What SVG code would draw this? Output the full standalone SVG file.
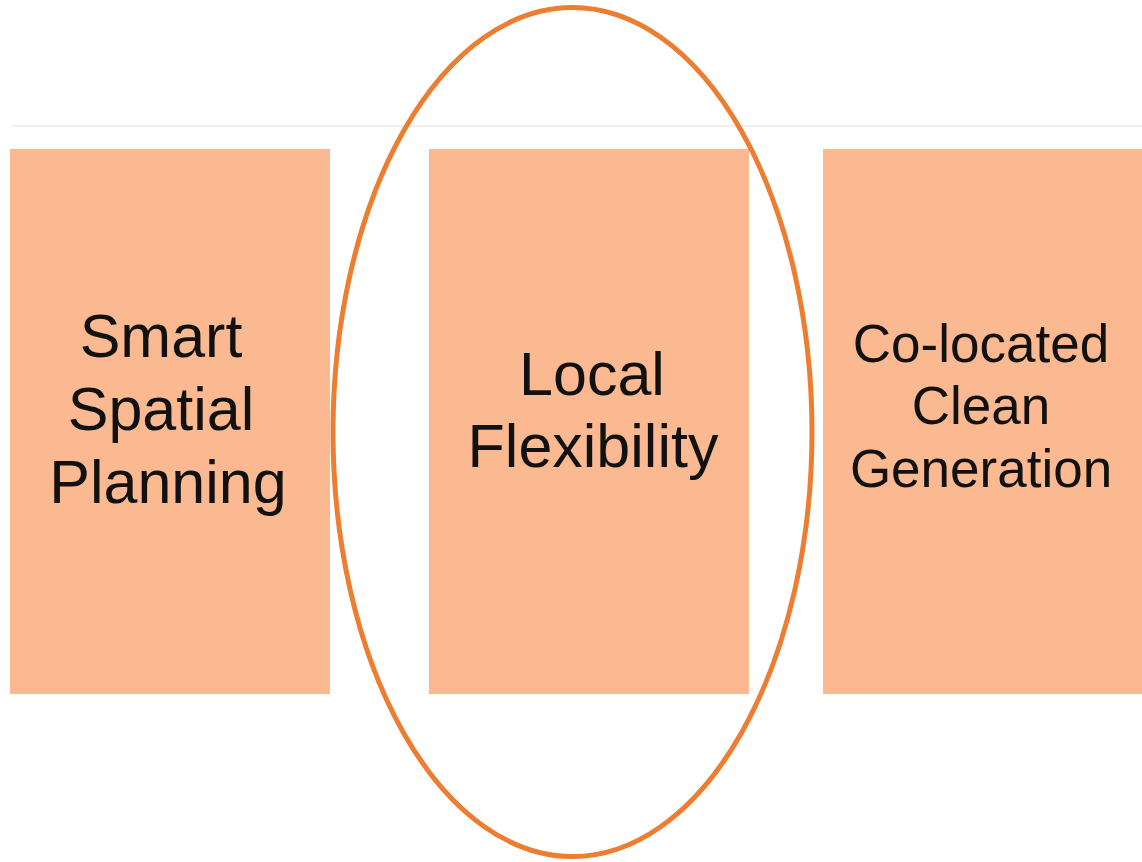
<svg xmlns="http://www.w3.org/2000/svg" width="1142" height="862" viewBox="0 0 1142 862">
<style>
.box{fill:#FAB990;}
.lbl{font-family:"Liberation Sans",Arial,sans-serif;fill:#111111;text-anchor:middle;}
.big{font-size:61px;}
.small{font-size:53px;}
</style>
<rect width="1142" height="862" fill="#ffffff"/>
<g id="connectors">
<line x1="11" y1="126" x2="1142" y2="126" stroke="#ebebeb" stroke-width="1.5"/>
</g>
<g id="node-smart-spatial-planning">
<rect class="box" x="10" y="149" width="320" height="545"/>
<text class="lbl big" x="161" y="357">Smart</text>
<text class="lbl big" x="161" y="430">Spatial</text>
<text class="lbl big" x="168" y="503">Planning</text>
</g>
<g id="node-local-flexibility">
<rect class="box" x="429" y="149" width="320" height="545"/>
<text class="lbl big" x="592" y="395">Local</text>
<text class="lbl big" x="593" y="467">Flexibility</text>
</g>
<g id="node-co-located-clean-generation">
<rect class="box" x="823" y="149" width="330" height="545"/>
<text class="lbl small" x="981" y="362">Co-located</text>
<text class="lbl small" x="981" y="424">Clean</text>
<text class="lbl small" x="981" y="487">Generation</text>
</g>
<g id="highlight">
<ellipse cx="572.5" cy="432" rx="239.5" ry="424.5" fill="none" stroke="#ED7D31" stroke-width="5"/>
</g>
</svg>
